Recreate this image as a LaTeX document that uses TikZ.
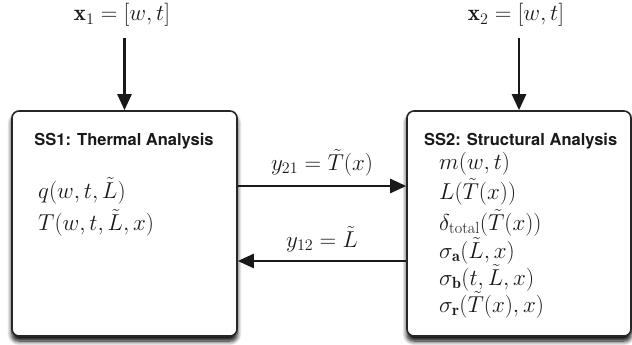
\RequirePackage{fix-cm}
\documentclass[tikz,border=0pt]{standalone}
\usepackage{fontspec}
\usepackage{amsmath}
\newfontfamily\hvfont{TeX Gyre Heros}
\usetikzlibrary{arrows.meta,shadows.blur}
\tikzset{
  sysbox/.style={draw=black!85, line width=1.6pt, fill=white, rounded corners=7pt,
    minimum width=225pt, minimum height=225pt, inner sep=0pt,
    blur shadow={shadow xshift=0pt, shadow yshift=-5pt, shadow blur radius=4.5pt,
      shadow blur steps=8, shadow opacity=100}},
  arr/.style={line width=2.5pt, draw=black!90, -{Triangle[length=16pt,width=14pt]}},
  ttl/.style={font=\hvfont\bfseries\fontsize{16.5}{19}\selectfont, inner sep=0pt, text=black!90},
  mth/.style={font=\fontsize{23}{27}\selectfont, inner sep=0pt, text=black!90},
}
\begin{document}
\begin{tikzpicture}[x=1pt,y=-1pt]
\useasboundingbox (0,0) rectangle (632,345);
\node[sysbox] (ss1) at (124.5,223.5) {};
\node[sysbox, minimum width=224pt] (ss2) at (519,223.5) {};
% titles
\node[ttl, anchor=base] (t1) at (124,145) {SS1: Thermal Analysis};
\node[ttl, anchor=base west] (t2) at (424,145) {SS2: Structural Analysis};
% left items
\node[mth, anchor=base west] (q) at (38,198) {$q(w,t,\tilde{L})$};
\node[mth, anchor=base west] (T) at (38,230) {$T(w,t,\tilde{L},x)$};
% right items
\node[mth, anchor=base west] (m) at (439,169) {$m(w,t)$};
\node[mth, anchor=base west] (L) at (439,199) {$L(\tilde{T}(x))$};
\node[mth, anchor=base west] (d) at (439,230) {$\delta_{\mathrm{total}}(\tilde{T}(x))$};
\node[mth, anchor=base west] (sa) at (439,258) {$\sigma_{\mathbf{a}}(\tilde{L},x)$};
\node[mth, anchor=base west] (sb) at (439,285) {$\sigma_{\mathbf{b}}(t,\tilde{L},x)$};
\node[mth, anchor=base west] (sr) at (439,312) {$\sigma_{\mathbf{r}}(\tilde{T}(x),x)$};
% inputs
\node[mth, anchor=base] (x1) at (122,21) {$\mathbf{x}_1=[w,t]$};
\node[mth, anchor=base] (x2) at (516,21) {$\mathbf{x}_2=[w,t]$};
\draw[arr, shorten <=11pt] (x1.south -| ss1.north) -- (ss1.north);
\draw[arr, shorten <=11pt] (x2.south -| ss2.north) -- (ss2.north);
% couplings
\draw[arr] ([yshift=37.5pt]ss1.east) -- ([yshift=37.5pt]ss2.west);
\draw[arr] ([yshift=-37.5pt]ss2.west) -- ([yshift=-37.5pt]ss1.east);
\node[mth, anchor=base] (y21) at (322,170) {$y_{21}=\tilde{T}(x)$};
\node[mth, anchor=base] (y12) at (322,247) {$y_{12}=\tilde{L}$};
\end{tikzpicture}
\end{document}
